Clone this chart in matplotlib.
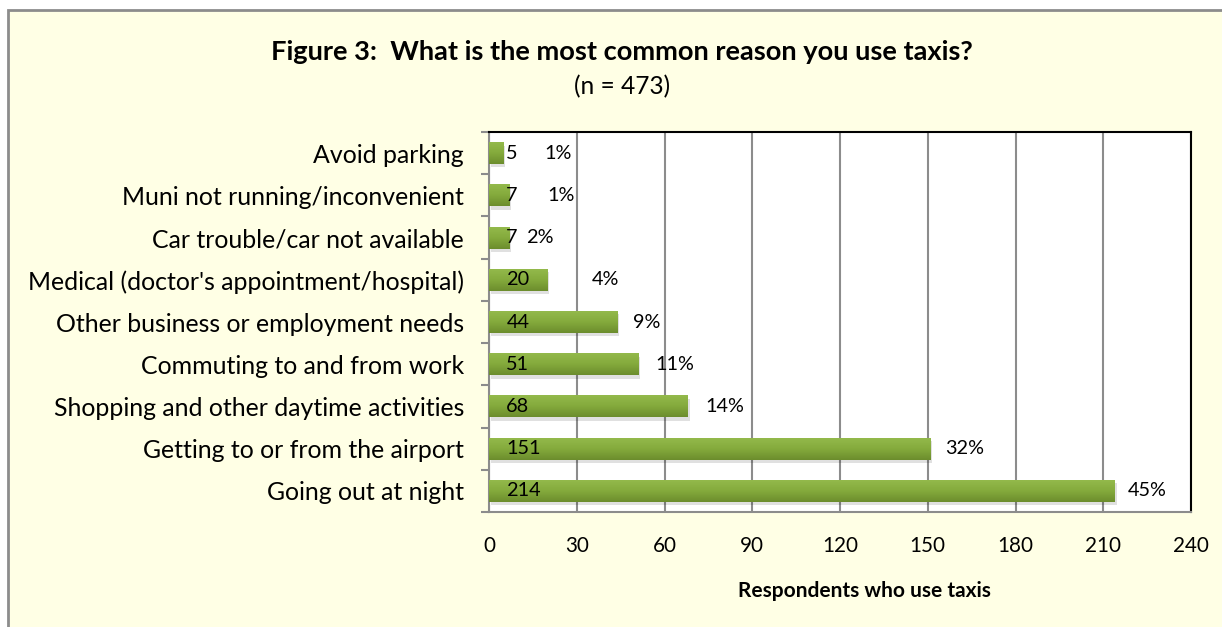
import numpy as np
import matplotlib.pyplot as plt
from matplotlib.patches import Rectangle
from matplotlib.colors import LinearSegmentedColormap

plt.rcParams['font.family'] = ['Lato', 'DejaVu Sans']

reasons = ["Avoid parking", "Muni not running/inconvenient", "Car trouble/car not available",
           "Medical (doctor's appointment/hospital)", "Other business or employment needs",
           "Commuting to and from work", "Shopping and other daytime activities",
           "Getting to or from the airport", "Going out at night"]
counts = [5, 7, 7, 20, 44, 51, 68, 151, 214]
percents = ["1%", "1%", "2%", "4%", "9%", "11%", "14%", "32%", "45%"]
xticks = [0, 30, 60, 90, 120, 150, 180, 210, 240]

# gap (px) between bar end and percent label, as laid out in the original
pct_gap = [41, 38, 17, 44, 15, 17, 17, 14, 13]

W, H = 1222, 627
bg = "#FFFFE5"
fig = plt.figure(figsize=(W / 100, H / 100), dpi=100, facecolor="white")
renderer = fig.canvas.get_renderer()


def fit(text, px, **kw):
    # font size that makes text about px pixels wide
    t = fig.text(0, 0, text, fontsize=10, **kw)
    w = t.get_window_extent(renderer).width
    t.remove()
    return 10 * px / w


fs_title = fit("Figure 3:  What is the most common reason you use taxis?", 705, fontweight="bold")
fs_sub = fit("(n = 473)", 96)
fs_cat = fit(reasons[3], 438)
fs_num = fit("214", 35)
fs_tick = fit("120", 36)
fs_xlab = fit("Respondents who use taxis", 254, fontweight="bold")

# chart area with grey frame (cropped on right/bottom in the original)
fig.patches.append(Rectangle((8 / W, -0.1), 1.2, 1 - 10 / H + 0.1, transform=fig.transFigure,
                             facecolor=bg, edgecolor="#8C8C8C", linewidth=2, zorder=-10))

ax = fig.add_axes([489 / W, 1 - 512 / H, 702 / W, 380 / H])
ax.set_facecolor("white")
ax.set_zorder(2)

green = LinearSegmentedColormap.from_list("g", ["#93B94B", "#84AA3C", "#6C8D2D"])
grad = np.linspace(0, 1, 50).reshape(-1, 1)
h = 0.52
y = np.arange(len(reasons))
for yi, v in zip(y, counts):
    # soft shadow
    ax.add_patch(Rectangle((0.6, yi - h / 2 + 0.08), v, h, facecolor="#000000", alpha=0.12,
                           edgecolor="none", zorder=2))
    ax.imshow(grad, extent=[0, v, yi + h / 2, yi - h / 2], cmap=green, aspect="auto", zorder=3)

for yi, v, p, g in zip(y, counts, percents, pct_gap):
    ax.annotate(str(v), (0, yi), xytext=(12.5, 0), textcoords="offset points", va="center",
                ha="left", fontsize=fs_num, zorder=5)
    ax.annotate(p, (v, yi), xytext=(g * 0.72, 0), textcoords="offset points", va="center",
                ha="left", fontsize=fs_num, zorder=5)

ax.set_xlim(0, 240)
ax.set_ylim(len(reasons) - 0.5, -0.5)
ax.set_xticks(xticks)
ax.set_xticklabels([str(t) for t in xticks], fontsize=fs_tick)
ax.tick_params(axis="x", length=0, pad=17)
ax.set_yticks(y)
ax.set_yticklabels(reasons, fontsize=fs_cat)
ax.tick_params(axis="y", length=0, pad=18)
ax.set_yticks(np.arange(-0.5, len(reasons)), minor=True)
ax.tick_params(axis="y", which="minor", length=6, color="#8C8C8C", width=1.5)
ax.grid(axis="x", color="#8C8C8C", linewidth=1.5, zorder=1)
ax.set_axisbelow(True)
for s in ["top", "right"]:
    ax.spines[s].set_color("black")
    ax.spines[s].set_linewidth(1.5)
for s in ["left", "bottom"]:
    ax.spines[s].set_color("#8C8C8C")
    ax.spines[s].set_linewidth(1.5)

fig.text(864 / W, 1 - 591 / H, "Respondents who use taxis", ha="center", va="center",
         fontsize=fs_xlab, fontweight="bold")
fig.text(622 / W, 1 - 52 / H, "Figure 3:  What is the most common reason you use taxis?",
         ha="center", va="center", fontsize=fs_title, fontweight="bold")
fig.text(622 / W, 1 - 87 / H, "(n = 473)", ha="center", va="center", fontsize=fs_sub)

fig.savefig("out.png", dpi=100, facecolor=fig.get_facecolor())
